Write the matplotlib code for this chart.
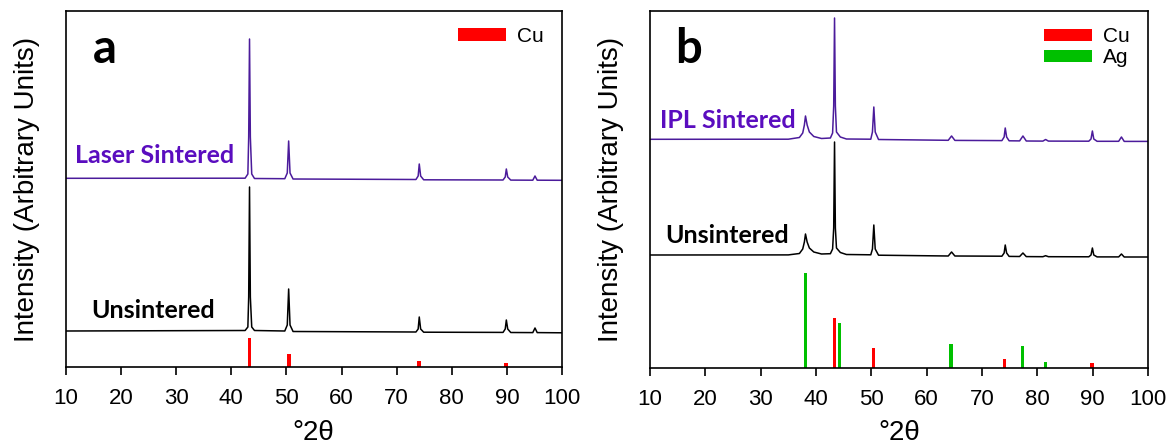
import matplotlib
matplotlib.use('Agg')
from matplotlib import pyplot as plt

plt.rcParams['font.family'] = ['Liberation Sans', 'DejaVu Sans']

# panel a traces (2theta, intensity in arbitrary units)
a_x = [10, 42.5, 43.0, 43.15, 43.3, 43.45, 43.7, 44.2, 49.7, 50.15, 50.4, 50.65, 51.2,
       73.5, 73.9, 74.1, 74.35, 74.9, 89.3, 89.7, 89.9, 90.15, 90.7, 94.7, 95.1, 95.5, 100]
a_unsintered = [36, 36.5, 40, 70, 180, 70, 40, 36.5, 36, 42, 78, 42, 35.5,
                35, 38, 50, 38, 34.8, 34.6, 38, 47, 38, 34.5, 34.4, 39, 34.4, 34.2]
a_laser = [188.7, 188.8, 193, 230, 328, 230, 193, 188.5, 188.3, 194, 226, 194, 188,
           187.5, 191, 203, 191, 187.2, 187, 190, 198, 190, 186.9, 186.8, 191, 186.8, 186.7]
a_cu_pos = [43.3, 50.4, 74.1, 89.9]
a_cu_int = [29, 13, 6, 4]

# panel b traces
b_x = [10, 35, 37.0, 37.6, 37.9, 38.1, 38.4, 38.8, 39.6, 41, 42.6, 43.0, 43.2, 43.35, 43.5,
       43.7, 44.4, 45.5, 49.9, 50.2, 50.45, 50.7, 51.3, 63.9, 64.5, 65.1, 73.6, 74.0, 74.2,
       74.45, 74.9, 76.8, 77.4, 78.0, 81.0, 81.5, 82.0, 89.3, 89.7, 89.95, 90.2, 90.8,
       94.7, 95.2, 95.7, 100]
b_ipl = [228.7, 228.8, 230.5, 235, 243, 252, 243, 236, 231.5, 229.5, 230, 235, 262, 350, 262,
         236, 231, 229, 228.8, 236, 261, 236, 228.5, 227.7, 232, 227.6, 227.4, 231, 240,
         231, 227.2, 227.1, 232, 227.0, 226.9, 228.5, 226.9, 226.8, 229, 237, 229, 226.7,
         226.7, 231, 226.6, 226.6]
b_unsintered = [113, 113.1, 114.5, 119, 126, 134, 126, 120, 116, 114, 114.3, 119, 140, 226, 140,
                120, 115.5, 113.5, 113.2, 119, 143, 119, 112.8, 112, 116, 112, 111.8, 115, 123,
                115, 111.6, 111.5, 115, 111.4, 111.3, 112.3, 111.3, 111.2, 113, 120, 113, 111.1,
                111.1, 114, 111, 111]
b_cu_pos = [43.3, 50.4, 74.1, 89.9]
b_cu_int = [50, 20, 9, 5]
b_ag_pos = [38.1, 44.3, 64.4, 77.4, 81.5]
b_ag_int = [95, 45, 24, 22, 6]

xticks = [10, 20, 30, 40, 50, 60, 70, 80, 90, 100]

purple_line = '#4B1B9B'
purple_text = '#5A0DBF'
red = '#FF0000'
green = '#00C000'

fig = plt.figure(figsize=(11.66, 4.47), dpi=100)
ax1 = fig.add_axes([66/1166, 1-367/447, 496/1166, 356/447])
ax2 = fig.add_axes([650/1166, 1-368/447, 498/1166, 357/447])


def style(ax, ymax):
    ax.set_xlim(10, 100)
    ax.set_ylim(0, ymax)
    ax.set_xticks(xticks)
    ax.set_yticks([])
    ax.tick_params(axis='x', direction='out', length=6, width=1.2, pad=9, labelsize=16)
    for s in ax.spines.values():
        s.set_linewidth(1.2)


# panel a
ax1.plot(a_x, a_laser, color=purple_line, lw=1.1)
ax1.plot(a_x, a_unsintered, color='black', lw=1.1)
ax1.bar(a_cu_pos, a_cu_int, width=0.7, color=red, label='Cu')
style(ax1, 356)
ax1.text(11.6, 204, 'Laser Sintered', color=purple_text, fontsize=18, fontweight='bold',
         family='Lato', va='baseline')
ax1.text(14.5, 49, 'Unsintered', color='black', fontsize=18, fontweight='bold',
         family='Lato', va='baseline')
ax1.text(14.9, 304, 'a', fontsize=34, fontweight='bold', family='Lato', va='baseline')
ax1.legend(loc='upper left', bbox_to_anchor=(0.79, 0.955), frameon=False, fontsize=15,
           handlelength=2.3, handleheight=0.53, handletextpad=0.55, borderpad=0,
           borderaxespad=0)

# panel b
ax2.plot(b_x, b_ipl, color=purple_line, lw=1.1)
ax2.plot(b_x, b_unsintered, color='black', lw=1.1)
ax2.bar(b_cu_pos, b_cu_int, width=0.6, color=red, label='Cu')
ax2.bar(b_ag_pos, b_ag_int, width=0.55, color=green, label='Ag')
style(ax2, 357)
ax2.text(11.8, 240, 'IPL Sintered', color=purple_text, fontsize=18, fontweight='bold',
         family='Lato', va='baseline')
ax2.text(12.7, 125, 'Unsintered', color='black', fontsize=18, fontweight='bold',
         family='Lato', va='baseline')
ax2.text(14.6, 305, 'b', fontsize=34, fontweight='bold', family='Lato', va='baseline')
ax2.legend(loc='upper left', bbox_to_anchor=(0.791, 0.955), frameon=False, fontsize=15,
           handlelength=2.3, handleheight=0.53, handletextpad=0.55, borderpad=0,
           borderaxespad=0, labelspacing=0.1)

# axis titles
for xc, yc in [(27, 189), (611, 189)]:
    fig.text(xc/1166, 1-yc/447, 'Intensity (Arbitrary Units)', rotation=90,
             ha='center', va='center', fontsize=20)
for xc in [313, 899]:
    fig.text(xc/1166, 0.003, '°2θ', ha='center', va='bottom', fontsize=20)

fig.savefig('out.png', dpi=100)
